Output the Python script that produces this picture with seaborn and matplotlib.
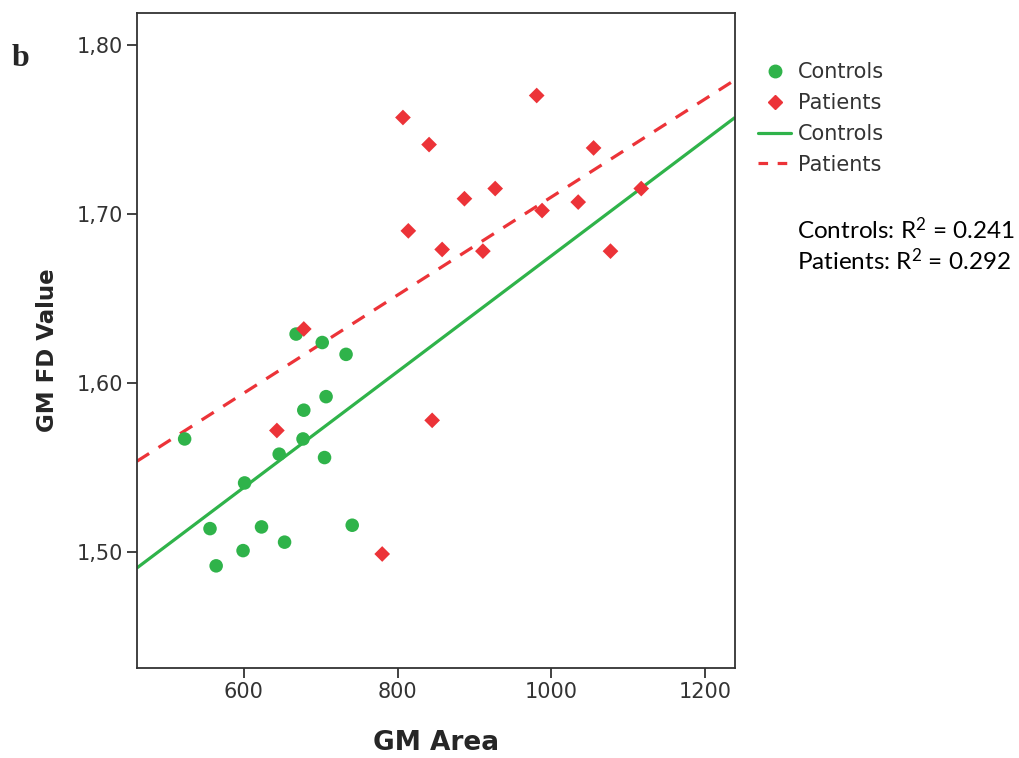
import matplotlib
matplotlib.use("Agg")
import matplotlib.pyplot as plt
import seaborn as sns
import pandas as pd
from matplotlib.lines import Line2D

sns.set_style("white")
plt.rcParams['font.family'] = ['DejaVu Sans']
plt.rcParams['mathtext.fontset'] = 'custom'
plt.rcParams['mathtext.rm'] = 'Lato'
plt.rcParams['mathtext.it'] = 'Lato'

# ---- data ----
controls_area = [523, 668, 702, 733, 678, 707, 677, 646, 705, 601, 556, 623, 741, 599, 653, 564]
controls_fd = [1.567, 1.629, 1.624, 1.617, 1.584, 1.592, 1.567, 1.558, 1.556, 1.541,
               1.514, 1.515, 1.516, 1.501, 1.506, 1.492]
patients_area = [643, 678, 780, 845, 807, 841, 981, 814, 887, 927, 858, 911, 988, 1055,
                 1035, 1117, 1077]
patients_fd = [1.572, 1.632, 1.499, 1.578, 1.757, 1.741, 1.770, 1.690, 1.709, 1.715,
               1.679, 1.678, 1.702, 1.739, 1.707, 1.715, 1.678]
groups = ["Controls", "Patients"]
r2_values = [0.241, 0.292]
x_ticks = [600, 800, 1000, 1200]
y_ticks = [1.50, 1.60, 1.70, 1.80]
y_tick_labels = ["1,50", "1,60", "1,70", "1,80"]

GREEN = "#2fb34a"
RED = "#ec3338"
colors = {"Controls": GREEN, "Patients": RED}

df = pd.DataFrame({
    "GM Area": controls_area + patients_area,
    "GM FD Value": controls_fd + patients_fd,
    "Group": ["Controls"] * len(controls_area) + ["Patients"] * len(patients_area),
})

fig = plt.figure(figsize=(10.2, 7.58), dpi=100)
ax = fig.add_axes([0.1343, 0.1187, 0.5863, 0.864])
ax.set_xlim(461, 1239)
ax.set_ylim(1.4316, 1.8187)

ctrl = df[df.Group == "Controls"]
pat = df[df.Group == "Patients"]

# fit lines across the whole axis
sns.regplot(data=ctrl, x="GM Area", y="GM FD Value", ax=ax, scatter=False, ci=None,
            truncate=False, color=GREEN, line_kws={"lw": 2.3, "solid_capstyle": "butt"})
sns.regplot(data=pat, x="GM Area", y="GM FD Value", ax=ax, scatter=False, ci=None,
            truncate=False, color=RED, line_kws={"lw": 2.3, "ls": (0, (4.5, 3.5))})

sns.scatterplot(data=ctrl, x="GM Area", y="GM FD Value", hue="Group", palette=colors,
                marker="o", ax=ax, s=95, linewidth=0, legend=False, zorder=3)
sns.scatterplot(data=pat, x="GM Area", y="GM FD Value", hue="Group", palette=colors,
                marker="D", ax=ax, s=64, linewidth=0, legend=False, zorder=3)

ax.set_xlim(461, 1239)
ax.set_ylim(1.4316, 1.8187)

ax.set_xticks(x_ticks)
ax.set_yticks(y_ticks)
ax.set_yticklabels(y_tick_labels)
ax.tick_params(axis="both", which="major", direction="out", length=7, width=1.3,
               color="#333333", labelsize=15, labelcolor="#333333", left=True, bottom=True,
               top=False, right=False, pad=3)
for sp in ax.spines.values():
    sp.set_visible(True)
    sp.set_color("#333333")
    sp.set_linewidth(1.3)

ax.set_xlabel("GM Area", fontsize=19, fontweight="bold", labelpad=20)
ax.set_ylabel("GM FD Value", fontsize=16.5, fontweight="bold")
ax.yaxis.set_label_coords(-0.13, 0.485)

handles = [
    Line2D([], [], marker="o", ls="none", color=GREEN, markersize=9),
    Line2D([], [], marker="D", ls="none", color=RED, markersize=7),
    Line2D([], [], color=GREEN, lw=2.3),
    Line2D([], [], color=RED, lw=2.3, ls=(0, (3, 3))),
]
labels = groups + groups
fig.legend(handles, labels, loc="upper left", bbox_to_anchor=(0.735, 0.929),
           frameon=False, fontsize=15, handlelength=1.6, handletextpad=0.3,
           labelspacing=0.52, borderaxespad=0, labelcolor="#333333")

r2_text = "\n".join(f"{g}: R$^{{2}}$ = {v:.3f}" for g, v in zip(groups, r2_values))
fig.text(0.781, 0.714, r2_text, fontsize=17.5, family=["Lato", "DejaVu Sans"],
         color="black", va="top", ha="left", linespacing=1.2)

fig.text(0.011, 0.923, "b", fontsize=23, fontweight="bold",
         family=["Liberation Serif", "DejaVu Serif"], va="center", ha="left")

fig.savefig("out.png", dpi=100)
